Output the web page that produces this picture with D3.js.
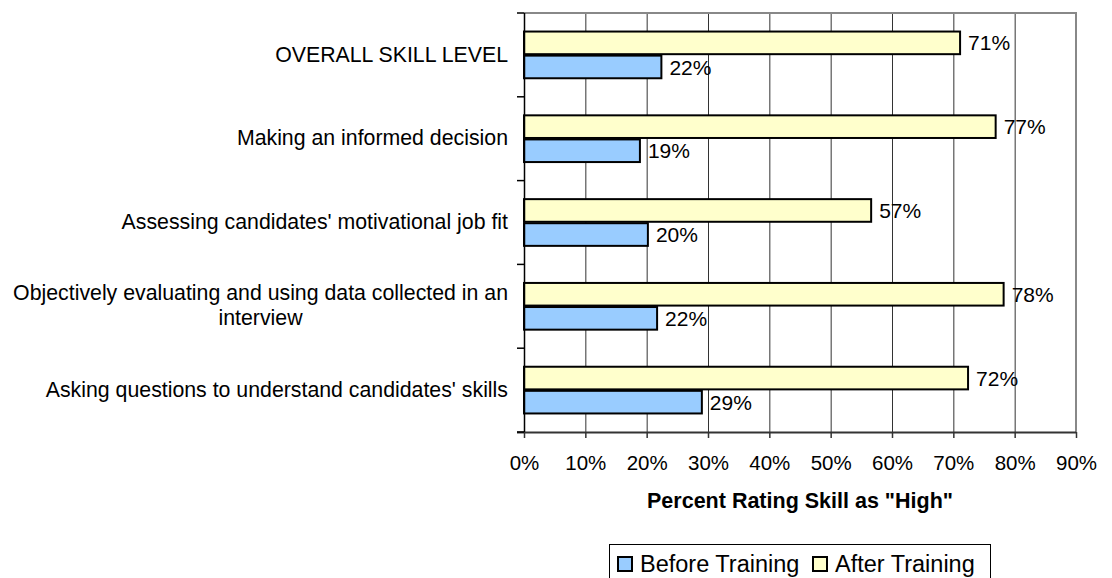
<!DOCTYPE html>
<html>
<head>
<meta charset="utf-8">
<script src="https://d3js.org/d3.v7.min.js"></script>
<style>
  body { margin: 0; background: #fff; }
  text { font-family: "Liberation Sans", Arial, sans-serif; }
</style>
</head>
<body>
<div id="chart-area"></div>
<script>
// chart data
var categories = [
    "OVERALL SKILL LEVEL",
    "Making an informed decision",
    "Assessing candidates' motivational job fit",
    "Objectively evaluating and using data collected in an|interview",
    "Asking questions to understand candidates' skills"
];
var beforeTraining = [0.224, 0.189, 0.202, 0.217, 0.290];
var afterTraining = [0.711, 0.769, 0.566, 0.782, 0.724];
var seriesNames = ["Before Training", "After Training"];
var xTicks = [0, 0.1, 0.2, 0.3, 0.4, 0.5, 0.6, 0.7, 0.8, 0.9];

var W = 1112, H = 578;
var plot = {left: 524, top: 13, right: 1076, bottom: 432};

var svg = d3.select("#chart-area").append("svg")
    .attr("width", W)
    .attr("height", H);

var x = d3.scaleLinear()
    .domain([0, 0.9])
    .range([plot.left, plot.right]);

var y = d3.scaleBand()
    .domain(categories)
    .range([plot.top, plot.bottom]);

// inner band for the two bars
var inner = d3.scaleBand()
    .domain(["after", "before"])
    .range([0, y.bandwidth()])
    .paddingOuter(0.77)
    .paddingInner(0.06);

// gridlines
svg.append("g").selectAll("line")
    .data(xTicks.slice(1, -1))
    .enter().append("line")
    .attr("x1", (d) => x(d) + 0.5)
    .attr("x2", (d) => x(d) + 0.5)
    .attr("y1", plot.top)
    .attr("y2", plot.bottom)
    .attr("stroke", "#333")
    .attr("stroke-width", 1);

// plot border top / right (gray)
svg.append("path")
    .attr("d", "M" + plot.left + "," + plot.top + "H" + plot.right + "V" + plot.bottom)
    .attr("fill", "none")
    .attr("stroke", "#888")
    .attr("stroke-width", 2);

// bars
var rows = categories.map((c, i) => ({cat: c, before: beforeTraining[i], after: afterTraining[i]}));

var g = svg.append("g");
rows.forEach((d) => {
    [["after", d.after, "#FFFFCC"], ["before", d.before, "#99CCFF"]].forEach((s) => {
        var yy = y(d.cat) + inner(s[0]);
        g.append("rect")
            .attr("x", x(0))
            .attr("y", yy)
            .attr("width", x(s[1]) - x(0))
            .attr("height", inner.bandwidth())
            .attr("fill", s[2])
            .attr("stroke", "#000")
            .attr("stroke-width", 2);
        g.append("text")
            .attr("x", x(s[1]) + 8)
            .attr("y", yy + inner.bandwidth() / 2)
            .attr("dy", "0.36em")
            .attr("font-size", "21px")
            .text(d3.format(".0%")(s[1]));
    });
});

// x axis
var xAxis = d3.axisBottom(x)
    .tickValues(xTicks)
    .tickSize(6)
    .tickFormat(d3.format(".0%"));

var xg = svg.append("g")
    .attr("transform", "translate(0," + plot.bottom + ")")
    .call(xAxis);
xg.select(".domain").attr("d", "M" + (plot.left - 7) + ",0.5H" + plot.right)
    .attr("stroke", "#333").attr("stroke-width", 2);
xg.selectAll(".tick line").attr("stroke", "#333").attr("stroke-width", 1.5);
xg.selectAll(".tick text")
    .attr("y", 23)
    .attr("font-size", "20.5px")
    .attr("font-family", "Liberation Sans, Arial, sans-serif")
    .attr("fill", "#000");

// y axis
var yAxis = d3.axisLeft(y).tickSize(0).tickFormat("");
var yg = svg.append("g")
    .attr("transform", "translate(" + plot.left + ",0)")
    .call(yAxis);
yg.select(".domain").attr("d", "M0.5," + plot.top + "V" + plot.bottom)
    .attr("stroke", "#000").attr("stroke-width", 1.5);

// y tick marks at band boundaries
var bounds = categories.map((c) => y(c)).concat([plot.bottom]);
yg.selectAll(".bound")
    .data(bounds)
    .enter().append("line")
    .attr("class", "bound")
    .attr("x1", -7)
    .attr("x2", 0)
    .attr("y1", (d) => d)
    .attr("y2", (d) => d)
    .attr("stroke", "#000")
    .attr("stroke-width", 1.5);

// category labels (wrapped lines centred on their block)
var labelRight = 508;
categories.forEach((c) => {
    var lines = c.split("|");
    var t = svg.append("text")
        .attr("font-size", "21.3px")
        .attr("fill", "#000");
    var lh = 25;
    var cy = y(c) + y.bandwidth() / 2 - 1 - (lines.length - 1) * lh / 2;
    lines.forEach((l, i) => {
        t.append("tspan").attr("y", cy + i * lh).attr("dy", "0.36em").text(l);
    });
    var maxW = 0;
    t.selectAll("tspan").each(function() {
        maxW = Math.max(maxW, this.getComputedTextLength());
    });
    t.attr("text-anchor", "middle");
    t.selectAll("tspan").attr("x", labelRight - maxW / 2);
});

// x axis title
svg.append("text")
    .attr("x", 800)
    .attr("y", 508)
    .attr("text-anchor", "middle")
    .attr("font-size", "21.5px")
    .attr("font-weight", "bold")
    .text('Percent Rating Skill as "High"');

// legend
var legend = svg.append("g");
legend.append("rect")
    .attr("x", 609.5)
    .attr("y", 544.5)
    .attr("width", 381)
    .attr("height", 50)
    .attr("fill", "#fff")
    .attr("stroke", "#000")
    .attr("stroke-width", 1);

var legendItems = [
    {name: seriesNames[0], color: "#99CCFF", x: 617},
    {name: seriesNames[1], color: "#FFFFCC", x: 812}
];
legendItems.forEach((d) => {
    legend.append("rect")
        .attr("x", d.x + 1)
        .attr("y", 557)
        .attr("width", 14)
        .attr("height", 14)
        .attr("fill", d.color)
        .attr("stroke", "#000")
        .attr("stroke-width", 2);
    legend.append("text")
        .attr("x", d.x + 23)
        .attr("y", 572)
        .attr("font-size", "23.5px")
        .text(d.name);
});
</script>
</body>
</html>
